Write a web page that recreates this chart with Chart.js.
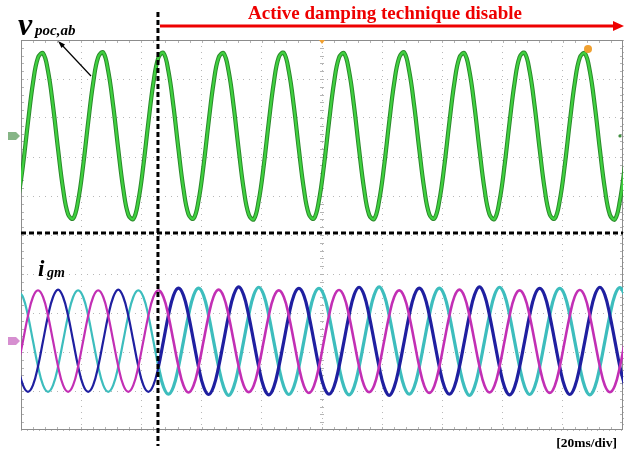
<!DOCTYPE html>
<html>
<head>
<meta charset="utf-8">
<script src="https://cdn.jsdelivr.net/npm/chart.js@4.4.1/dist/chart.umd.min.js"></script>
<style>
body { margin: 0; background: #fff; }
</style>
</head>
<body>
<canvas id="scope" width="630" height="453"></canvas>
<script>
// sample instants in ms (every 30 deg of the 50 Hz wave), 20 ms per division
var timeMs = [
    -1.02,
    0.65, 2.32, 3.98, 5.65, 7.32, 8.98, 10.65, 12.32, 13.98, 15.65, 17.32, 18.98,
    20.65, 22.32, 23.98, 25.65, 27.32, 28.98, 30.65, 32.32, 33.98, 35.65, 37.32, 38.98,
    40.65, 42.32, 43.98, 45.65, 47.32, 48.98, 50.65, 52.32, 53.98, 55.65, 57.32, 58.98,
    60.65, 62.32, 63.98, 65.65, 67.32, 68.98, 70.65, 72.32, 73.98, 75.65, 77.32, 78.98,
    80.65, 82.32, 83.98, 85.65, 87.32, 88.98, 90.65, 92.32, 93.98, 95.65, 97.32, 98.98,
    100.65, 102.32, 103.98, 105.65, 107.32, 108.98, 110.65, 112.32, 113.98, 115.65, 117.32, 118.98,
    120.65, 122.32, 123.98, 125.65, 127.32, 128.98, 130.65, 132.32, 133.98, 135.65, 137.32, 138.98,
    140.65, 142.32, 143.98, 145.65, 147.32, 148.98, 150.65, 152.32, 153.98, 155.65, 157.32, 158.98,
    160.65, 162.32, 163.98, 165.65, 167.32, 168.98, 170.65, 172.32, 173.98, 175.65, 177.32, 178.98,
    180.65, 182.32, 183.98, 185.65, 187.32, 188.98, 190.65, 192.32, 193.98, 195.65, 197.32, 198.98,
    200.65
];

// screen divisions
var vpoc = [
    0.88,
    1.78, 2.89, 3.90, 4.55, 4.66, 4.20, 3.30, 2.19, 1.18, 0.53, 0.42, 0.88,
    1.78, 2.89, 3.90, 4.56, 4.68, 4.20, 3.30, 2.19, 1.18, 0.52, 0.41, 0.88,
    1.78, 2.89, 3.90, 4.55, 4.67, 4.20, 3.30, 2.19, 1.18, 0.53, 0.42, 0.88,
    1.78, 2.89, 3.90, 4.55, 4.66, 4.20, 3.30, 2.19, 1.18, 0.53, 0.40, 0.88,
    1.78, 2.89, 3.90, 4.56, 4.67, 4.20, 3.30, 2.19, 1.18, 0.53, 0.42, 0.88,
    1.78, 2.89, 3.90, 4.55, 4.66, 4.20, 3.30, 2.19, 1.18, 0.52, 0.41, 0.88,
    1.78, 2.89, 3.90, 4.55, 4.68, 4.20, 3.30, 2.19, 1.18, 0.53, 0.42, 0.88,
    1.78, 2.89, 3.90, 4.55, 4.66, 4.20, 3.30, 2.19, 1.18, 0.53, 0.41, 0.88,
    1.78, 2.89, 3.90, 4.56, 4.67, 4.20, 3.30, 2.19, 1.18, 0.53, 0.42, 0.88,
    1.78, 2.89, 3.90, 4.55, 4.66, 4.20, 3.30, 2.19, 1.18, 0.52, 0.40, 0.88,
    1.78
];

var igmA = [  // magenta
    -3.37,
    -2.72, -2.07, -1.59, -1.42, -1.59, -2.07, -2.72, -3.37, -3.85, -4.02, -3.85, -3.37,
    -2.72, -2.07, -1.59, -1.42, -1.59, -2.07, -2.72, -3.37, -3.85, -4.02, -3.85, -3.37,
    -2.72, -2.07, -1.59, -1.42, -1.59, -2.07, -2.72, -3.37, -3.86, -4.04, -3.86, -3.37,
    -2.72, -2.07, -1.58, -1.40, -1.58, -2.07, -2.72, -3.37, -3.86, -4.03, -3.86, -3.37,
    -2.72, -2.07, -1.59, -1.42, -1.59, -2.07, -2.72, -3.38, -3.87, -4.05, -3.87, -3.38,
    -2.72, -2.07, -1.58, -1.41, -1.58, -2.07, -2.72, -3.37, -3.86, -4.03, -3.86, -3.37,
    -2.72, -2.07, -1.59, -1.42, -1.59, -2.07, -2.72, -3.38, -3.87, -4.05, -3.87, -3.38,
    -2.72, -2.07, -1.58, -1.40, -1.58, -2.07, -2.72, -3.37, -3.86, -4.04, -3.86, -3.37,
    -2.72, -2.07, -1.59, -1.42, -1.59, -2.07, -2.72, -3.38, -3.87, -4.05, -3.87, -3.38,
    -2.72, -2.07, -1.58, -1.41, -1.58, -2.07, -2.72, -3.37, -3.86, -4.03, -3.86, -3.37,
    -2.72
];

var igmB = [  // blue
    -3.37,
    -3.85, -4.02, -3.85, -3.37, -2.72, -2.07, -1.59, -1.40, -1.59, -2.07, -2.72, -3.37,
    -3.85, -4.02, -3.85, -3.37, -2.72, -2.07, -1.59, -1.40, -1.59, -2.07, -2.72, -3.37,
    -3.85, -4.02, -3.85, -3.38, -2.72, -2.06, -1.55, -1.36, -1.55, -2.06, -2.72, -3.38,
    -3.89, -4.09, -3.89, -3.38, -2.72, -2.06, -1.54, -1.33, -1.54, -2.06, -2.72, -3.38,
    -3.90, -4.10, -3.90, -3.38, -2.72, -2.06, -1.55, -1.37, -1.55, -2.06, -2.72, -3.38,
    -3.89, -4.08, -3.89, -3.38, -2.72, -2.06, -1.54, -1.34, -1.54, -2.06, -2.72, -3.38,
    -3.90, -4.11, -3.90, -3.38, -2.72, -2.06, -1.55, -1.36, -1.55, -2.06, -2.72, -3.38,
    -3.89, -4.08, -3.89, -3.38, -2.72, -2.06, -1.54, -1.33, -1.54, -2.06, -2.72, -3.38,
    -3.90, -4.10, -3.90, -3.38, -2.72, -2.06, -1.55, -1.37, -1.55, -2.06, -2.72, -3.38,
    -3.89, -4.09, -3.89, -3.38, -2.72, -2.06, -1.54, -1.34, -1.54, -2.06, -2.72, -3.38,
    -3.89
];

var igmC = [  // cyan
    -1.42,
    -1.59, -2.07, -2.72, -3.37, -3.85, -4.02, -3.85, -3.37, -2.72, -2.07, -1.59, -1.42,
    -1.59, -2.07, -2.72, -3.37, -3.85, -4.02, -3.85, -3.37, -2.72, -2.07, -1.59, -1.42,
    -1.59, -2.07, -2.72, -3.38, -3.89, -4.08, -3.89, -3.38, -2.72, -2.06, -1.55, -1.36,
    -1.55, -2.06, -2.72, -3.38, -3.90, -4.11, -3.90, -3.38, -2.72, -2.06, -1.54, -1.34,
    -1.54, -2.06, -2.72, -3.38, -3.89, -4.09, -3.89, -3.38, -2.72, -2.06, -1.55, -1.37,
    -1.55, -2.06, -2.72, -3.38, -3.90, -4.10, -3.90, -3.38, -2.72, -2.06, -1.54, -1.33,
    -1.54, -2.06, -2.72, -3.38, -3.89, -4.08, -3.89, -3.38, -2.72, -2.06, -1.55, -1.36,
    -1.55, -2.06, -2.72, -3.38, -3.90, -4.11, -3.90, -3.38, -2.72, -2.06, -1.54, -1.34,
    -1.54, -2.06, -2.72, -3.38, -3.89, -4.09, -3.89, -3.38, -2.72, -2.06, -1.55, -1.37,
    -1.55, -2.06, -2.72, -3.38, -3.90, -4.10, -3.90, -3.38, -2.72, -2.06, -1.54, -1.35,
    -1.55
];

var disableTime = 45.5;   // ms, damping switched off
var splitLevel = 0.05;    // div, dashed line between the two channel groups
var vpocLevel = 2.54;     // div, ch1 offset marker
var igmLevel = -2.72;     // div, current channels offset marker

var titleText = "Active damping technique disable";
var timeBaseText = "[20ms/div]";
var serif = "'Liberation Serif', 'Times New Roman', serif";

function points(values) {
    return timeMs.map(function(t, i) { return { x: t, y: values[i] }; });
}

function noisyWidth(before, after) {
    return function(ctx) {
        return ctx.p0.parsed.x >= disableTime ? after : before;
    };
}

var scopeDecor = {
    id: 'scopeDecor',
    beforeDatasetsDraw: function(chart) {
        var c = chart.ctx, a = chart.chartArea;
        var cx = (a.left + a.right) / 2;
        var dx = (a.right - a.left) / 50, dy = (a.bottom - a.top) / 50;
        c.save();
        c.strokeStyle = '#b5b5b5';
        c.lineWidth = 1;
        c.beginPath();
        for (var i = 1; i < 50; i++) {
            var x = Math.round(a.left + i * dx) + 0.5;
            c.moveTo(x, a.top); c.lineTo(x, a.top + 3);
            c.moveTo(x, a.bottom); c.lineTo(x, a.bottom - 3);
            var y = Math.round(a.top + i * dy) + 0.5;
            c.moveTo(a.left, y); c.lineTo(a.left + 3, y);
            c.moveTo(a.right, y); c.lineTo(a.right - 3, y);
            c.moveTo(cx - 2, y); c.lineTo(cx + 2, y);
        }
        c.stroke();
        c.strokeStyle = '#8c8c8c';
        c.strokeRect(a.left + 0.5, a.top + 0.5, a.right - a.left - 1, a.bottom - a.top - 1);
        c.restore();
    },
    afterDatasetsDraw: function(chart) {
        var c = chart.ctx, a = chart.chartArea;
        var xs = chart.scales.x, ys = chart.scales.y;
        var xd = xs.getPixelForValue(disableTime);
        var xm = xs.getPixelForValue(100);
        var yv = ys.getPixelForValue(vpocLevel);
        var yi = ys.getPixelForValue(igmLevel);
        c.save();

        // channel markers
        c.fillStyle = '#86b586';
        c.beginPath();
        c.moveTo(8, yv - 4); c.lineTo(16, yv - 4); c.lineTo(20, yv); c.lineTo(16, yv + 4); c.lineTo(8, yv + 4);
        c.closePath(); c.fill();
        c.fillStyle = '#d68fd0';
        c.beginPath();
        c.moveTo(8, yi - 4); c.lineTo(16, yi - 4); c.lineTo(20, yi); c.lineTo(16, yi + 4); c.lineTo(8, yi + 4);
        c.closePath(); c.fill();
        c.fillStyle = '#3f8f3f';
        c.beginPath(); c.arc(a.right - 3, yv, 1.6, 0, Math.PI * 2); c.fill();
        c.fillStyle = '#f0a030';
        c.beginPath();
        c.moveTo(xm - 3, a.top); c.lineTo(xm + 3, a.top); c.lineTo(xm, a.top + 4);
        c.closePath(); c.fill();
        c.beginPath(); c.arc(a.right - 35, a.top + 9, 4, 0, Math.PI * 2); c.fill();

        // black dashed separators
        c.strokeStyle = '#000';
        c.lineWidth = 3;
        c.setLineDash([5, 3]);
        c.beginPath();
        c.moveTo(a.left, ys.getPixelForValue(splitLevel));
        c.lineTo(a.right, ys.getPixelForValue(splitLevel));
        c.stroke();
        c.beginPath();
        c.moveTo(xd, a.top - 28);
        c.lineTo(xd, a.bottom + 16);
        c.stroke();
        c.setLineDash([]);

        // red arrow + caption
        c.strokeStyle = '#ee0000';
        c.fillStyle = '#ee0000';
        c.lineWidth = 3;
        c.beginPath();
        c.moveTo(xd + 2, a.top - 14);
        c.lineTo(a.right - 8, a.top - 14);
        c.stroke();
        c.beginPath();
        c.moveTo(a.right + 1, a.top - 14);
        c.lineTo(a.right - 10, a.top - 19);
        c.lineTo(a.right - 10, a.top - 9);
        c.closePath(); c.fill();
        c.font = 'bold 19px ' + serif;
        c.textAlign = 'center';
        c.textBaseline = 'alphabetic';
        c.fillText(titleText, 385, a.top - 21);

        // signal labels
        c.fillStyle = '#000';
        c.textAlign = 'left';
        c.font = 'italic bold 32px ' + serif;
        c.fillText('v', 18, 35);
        c.font = 'italic bold 15px ' + serif;
        c.fillText('poc,ab', 35, 35);
        c.font = 'italic bold 23px ' + serif;
        c.fillText('i', 38, 276);
        c.font = 'italic bold 14px ' + serif;
        c.fillText('gm', 47, 277);

        // pointer arrow to v label
        c.strokeStyle = '#000';
        c.lineWidth = 1.2;
        c.beginPath();
        c.moveTo(91, 76);
        c.lineTo(60, 43);
        c.stroke();
        c.beginPath();
        c.moveTo(58, 41); c.lineTo(65, 44.5); c.lineTo(61.5, 48);
        c.closePath(); c.fill();

        c.font = 'bold 13.5px ' + serif;
        c.textAlign = 'right';
        c.fillText(timeBaseText, 617, 447);
        c.restore();
    }
};

// dataset 0 is painted last, so the bright green core goes first
var ctx = document.getElementById("scope").getContext('2d');
var myChart = new Chart(ctx, {
    type: 'line',
    data: {
        datasets: [{
            data: points(vpoc),
            borderColor: '#3fd03f',
            borderWidth: 2.2
        }, {
            data: points(vpoc),
            borderColor: '#2b8a2b',
            borderWidth: 4.2
        }, {
            data: points(igmA),
            borderColor: '#c22fb4',
            segment: { borderWidth: noisyWidth(2.2, 2.6) }
        }, {
            data: points(igmB),
            borderColor: '#1f1fa0',
            segment: { borderWidth: noisyWidth(2.2, 3.2) }
        }, {
            data: points(igmC),
            borderColor: '#3dbdbd',
            segment: { borderWidth: noisyWidth(2.2, 3.2) }
        }]
    },
    options: {
        responsive: false,
        animation: false,
        layout: { padding: { left: 21, right: 7, top: 40, bottom: 23 } },
        elements: {
            point: { radius: 0 },
            line: { tension: 0.4, borderWidth: 2.2, fill: false }
        },
        datasets: { line: { clip: 0 } },
        plugins: {
            legend: { display: false },
            tooltip: { enabled: false }
        },
        scales: {
            x: {
                type: 'linear',
                min: 0,
                max: 200,
                ticks: { display: false, stepSize: 20 },
                grid: { color: '#b8b8b8', drawTicks: false },
                border: { display: false, dash: [1, 5] }
            },
            y: {
                min: -5,
                max: 5,
                ticks: { display: false, stepSize: 1 },
                grid: { color: '#b8b8b8', drawTicks: false },
                border: { display: false, dash: [1, 5] }
            }
        }
    },
    plugins: [scopeDecor]
});
</script>
</body>
</html>
